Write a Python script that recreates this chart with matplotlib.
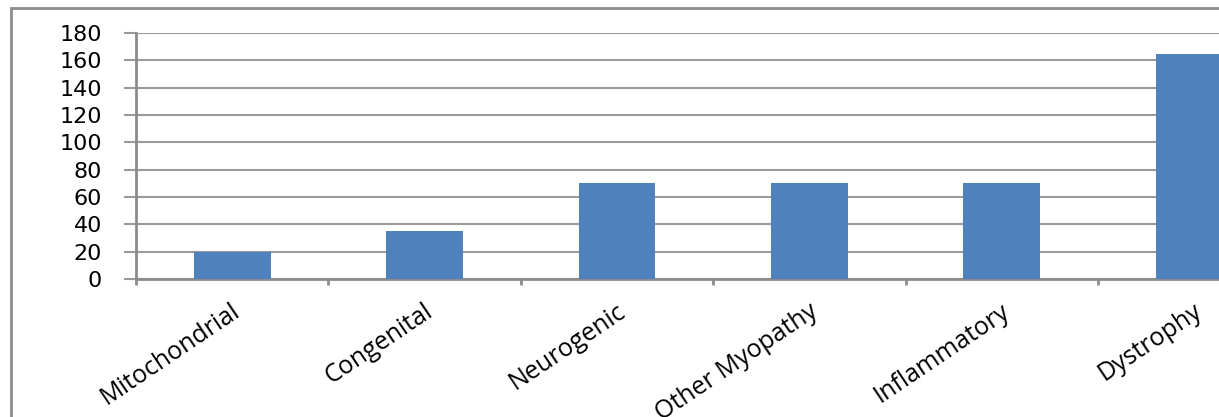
import numpy as np
import matplotlib
matplotlib.use("Agg")
import matplotlib.pyplot as plt
from matplotlib.patches import Rectangle

# disease groups and counts
groups = ["Mitochondrial", "Congenital", "Neurogenic", "Other Myopathy",
          "Inflammatory", "Dystrophy"]
counts = [20, 35, 70, 70, 70, 165]
yticks = [0, 20, 40, 60, 80, 100, 120, 140, 160, 180]

W, H = 1219, 417
fig = plt.figure(figsize=(W / 100, H / 100), dpi=100)

# chart area frame (runs off the right and bottom edges)
fig.patches.append(Rectangle((11 / W, -0.1), 1.2, 1 - 8 / H + 0.1,
                             transform=fig.transFigure, fill=False,
                             edgecolor="#8c8c8c", linewidth=2))

# plot area is wider than the figure, so the last bar gets clipped
ax = fig.add_axes([136 / W, (H - 279) / H, 6 * 192.4 / W, 246 / H])
x = np.arange(len(groups))
ax.bar(x, counts, width=0.4, color="#4f81bd", zorder=3)

ax.set_xlim(-0.5, len(groups) - 0.5)
ax.set_ylim(0, 180)
ax.set_yticks(yticks)
ax.grid(axis="y", color="#9a9a9a", linewidth=1.5, zorder=0)

for s in ["top", "right"]:
    ax.spines[s].set_visible(False)
for s in ["left", "bottom"]:
    ax.spines[s].set_color("#8c8c8c")
    ax.spines[s].set_linewidth(2)

ax.tick_params(axis="y", length=8.6, width=1.5, color="#9a9a9a",
               labelsize=16, pad=16)
for lab in ax.get_yticklabels():
    lab.set_family("DejaVu Sans")

# category ticks sit on the boundaries between groups
ax.set_xticks(np.arange(len(groups) + 1) - 0.5)
ax.set_xticklabels([])
ax.tick_params(axis="x", length=4.5, width=2, color="#8c8c8c")
for i, g in enumerate(groups):
    ax.text(i + 0.03, -22, g, rotation=34, rotation_mode="anchor",
            ha="right", va="center", fontsize=18, family="Open Sans",
            transform=ax.transData, clip_on=False)

fig.savefig("out.png", dpi=100)
